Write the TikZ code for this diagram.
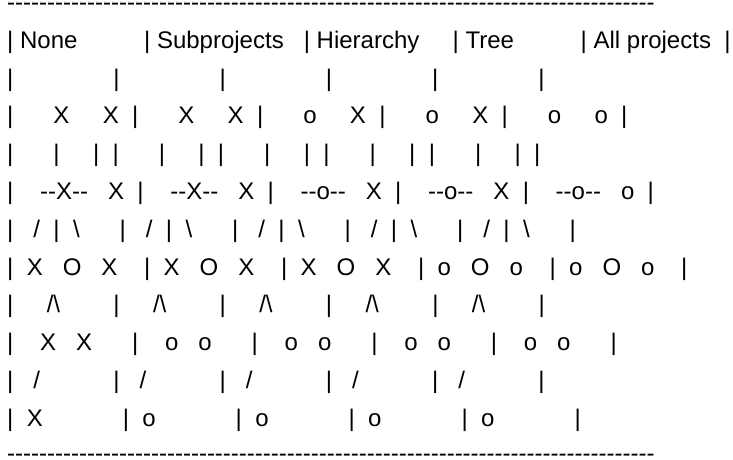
\documentclass[tikz,border=0pt]{standalone}
\usepackage{fontspec}
\setmainfont{Liberation Sans}[Ligatures=TeXOff]
\usepackage{tikz}

% n blanks of the current font
\newcommand{\gap}[1]{\hspace*{#1\fontdimen2\font}}
\newcommand{\bksl}{\textbackslash}
\newcommand{\dashline}{\foreach \k in {1,...,81}{-}}

\tikzset{
  asciirow/.style={anchor=base west, inner sep=0pt, outer sep=0pt, font=\fontsize{24}{28}\selectfont}
}

\begin{document}
\begin{tikzpicture}[x=1pt, y=-1pt]
  \useasboundingbox (0,0) rectangle (733,459);

  % Top rule
  \node[asciirow] (topline) at (7.2, 10) {\dashline};

  % Column titles
  \node[asciirow] (titles) at (7.2, 48.3) {|\gap{1}None\gap{10}|\gap{1}Subprojects\gap{3}|\gap{1}Hierarchy\gap{5}|\gap{1}Tree\gap{10}|\gap{1}All projects\gap{2}|};

  % Empty row
  \node[asciirow] (blank) at (7.2, 86.1) {|\gap{15}|\gap{15}|\gap{15}|\gap{15}|\gap{15}|};

  % Grandparents
  \node[asciirow] (grandrow) at (7.2, 123.9) {|\gap{6}X\gap{5}X\gap{2}|\gap{6}X\gap{5}X\gap{2}|\gap{6}o\gap{5}X\gap{2}|\gap{6}o\gap{5}X\gap{2}|\gap{6}o\gap{5}o\gap{2}|};

  \node[asciirow] (stemrow) at (7.2, 161.7) {|\gap{6}|\gap{5}|\gap{2}|\gap{6}|\gap{5}|\gap{2}|\gap{6}|\gap{5}|\gap{2}|\gap{6}|\gap{5}|\gap{2}|\gap{6}|\gap{5}|\gap{2}|};

  % Parents
  \node[asciirow] (parentrow) at (7.2, 199.5) {|\gap{4}--X--\gap{3}X\gap{2}|\gap{4}--X--\gap{3}X\gap{2}|\gap{4}--o--\gap{3}X\gap{2}|\gap{4}--o--\gap{3}X\gap{2}|\gap{4}--o--\gap{3}o\gap{2}|};

  \node[asciirow] (branchrow) at (7.2, 237.3) {|\gap{3}/\gap{2}|\gap{2}\bksl\gap{6}|\gap{3}/\gap{2}|\gap{2}\bksl\gap{6}|\gap{3}/\gap{2}|\gap{2}\bksl\gap{6}|\gap{3}/\gap{2}|\gap{2}\bksl\gap{6}|\gap{3}/\gap{2}|\gap{2}\bksl\gap{6}|};

  % Current project
  \node[asciirow] (currentrow) at (7.2, 275.1) {|\gap{2}X\gap{3}O\gap{3}X\gap{4}|\gap{2}X\gap{3}O\gap{3}X\gap{4}|\gap{2}X\gap{3}O\gap{3}X\gap{4}|\gap{2}o\gap{3}O\gap{3}o\gap{4}|\gap{2}o\gap{3}O\gap{3}o\gap{4}|};

  \node[asciirow] (forkrow) at (7.2, 312.9) {|\gap{5}/\bksl\gap{8}|\gap{5}/\bksl\gap{8}|\gap{5}/\bksl\gap{8}|\gap{5}/\bksl\gap{8}|\gap{5}/\bksl\gap{8}|};

  % Children
  \node[asciirow] (childrow) at (7.2, 350.7) {|\gap{4}X\gap{3}X\gap{6}|\gap{4}o\gap{3}o\gap{6}|\gap{4}o\gap{3}o\gap{6}|\gap{4}o\gap{3}o\gap{6}|\gap{4}o\gap{3}o\gap{6}|};

  \node[asciirow] (leafrow) at (7.2, 388.5) {|\gap{3}/\gap{11}|\gap{3}/\gap{11}|\gap{3}/\gap{11}|\gap{3}/\gap{11}|\gap{3}/\gap{11}|};

  % Grandchildren
  \node[asciirow] (grandchildrow) at (7.2, 426.3) {|\gap{2}X\gap{12}|\gap{2}o\gap{12}|\gap{2}o\gap{12}|\gap{2}o\gap{12}|\gap{2}o\gap{12}|};

  % Bottom rule
  \node[asciirow] (bottomline) at (7.2, 461.5) {\dashline};
\end{tikzpicture}
\end{document}
